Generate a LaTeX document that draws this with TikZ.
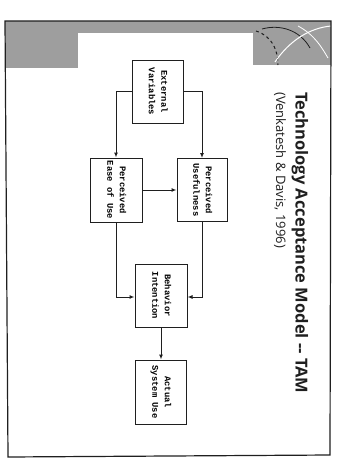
\documentclass[tikz,border=0pt]{standalone}
\usepackage{fontspec}
\usetikzlibrary{arrows.meta,positioning}
\newfontfamily\boxfont{Liberation Mono}
\newfontfamily\titlefont{Open Sans}
\definecolor{slidegrey}{gray}{0.62}
\definecolor{inkgrey}{gray}{0.12}
\tikzset{
  tambox/.style={draw=inkgrey,line width=1pt,fill=white,inner sep=0pt,
    minimum width=51pt,minimum height=63pt,
    font=\boxfont\bfseries\fontsize{8.8}{12.5}\selectfont},
  flow/.style={draw=inkgrey,line width=1pt,-{Latex[length=5pt,width=4pt]}},
  frame/.style={draw=inkgrey,line width=1.2pt}
}
\newcommand{\tamtext}[2]{\rotatebox{-90}{\begin{tabular}{@{}c@{}}#1\\#2\end{tabular}}}

\begin{document}
\begin{tikzpicture}[x=1pt,y=-1pt]
  \useasboundingbox (0,0) rectangle (340,463);
  % slide header band
  \fill[slidegrey] (5,21) rectangle (78,68);
  \fill[slidegrey] (78,21) rectangle (253,33);
  \fill[slidegrey] (253,21) rectangle (331,65);
  \begin{scope}
    \clip (253,21) rectangle (331,65);
    \draw[inkgrey,line width=1pt,dashed] (256,31) .. controls (272,36) and (278,50) .. (278,65);
    \draw[inkgrey,line width=0.8pt] (262,29) .. controls (280,24) and (300,30) .. (310,48);
    \draw[white,line width=1pt] (275,62) .. controls (290,40) and (310,28) .. (331,26);
    \draw[white,line width=0.8pt] (298,26) .. controls (315,35) and (322,48) .. (328,58);
  \end{scope}
  % slide frame
  \draw[frame] (5,21) -- (331,21) -- (330,455) -- (8,457) -- cycle;

  % title
  \node[rotate=-90,anchor=west,inner sep=0pt,font=\titlefont\bfseries\fontsize{16.5}{18}\selectfont,text=inkgrey]
    (title) at (300,92) {Technology Acceptance Model -- TAM};
  \node[rotate=-90,anchor=west,inner sep=0pt,font=\titlefont\fontsize{13}{15}\selectfont,text=inkgrey]
    (cite) at (280,92) {(Venkatesh \& Davis, 1996)};

  % model
  \node[tambox] (ev)   at (157.5,91.5) {\tamtext{External}{Variables}};
  \node[tambox,minimum width=52pt,minimum height=64pt] (peou) at (116,190) {\tamtext{Perceived}{Ease of Use}};
  \node[tambox,minimum width=50pt] (pu)   at (202,190) {\tamtext{Perceived}{Usefulness}};
  \node[tambox,minimum width=52pt] (bi)   at (161,295.5) {\tamtext{Behavior}{Intention}};
  \node[tambox,minimum height=64pt,below=32pt of bi] (asu) {\tamtext{Actual}{System Use}};

  \draw[flow] (ev.west) -| (peou.north);
  \draw[flow] (ev.east) -| (pu.north);
  \draw[flow] (peou) -- (pu);
  \draw[flow] (peou.south) |- ([yshift=-1.5pt]bi.west);
  \draw[flow] (pu.south) |- ([yshift=-1.5pt]bi.east);
  \draw[flow] (bi) -- (asu);
\end{tikzpicture}
\end{document}
